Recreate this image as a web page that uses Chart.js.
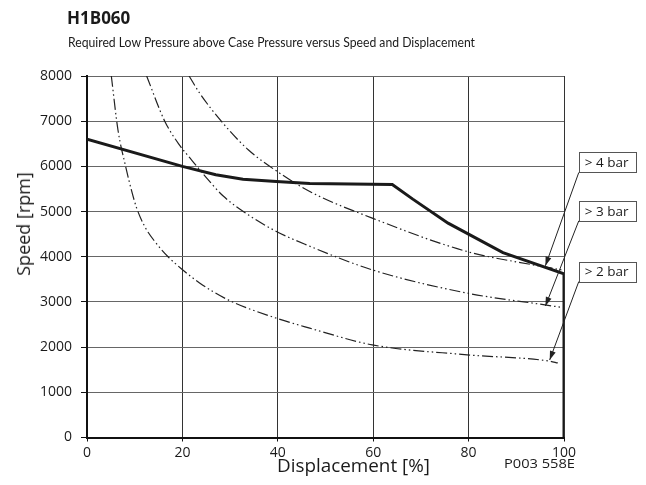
<!DOCTYPE html>
<html><head><meta charset="utf-8">
<script src="https://cdn.jsdelivr.net/npm/chart.js@4/dist/chart.umd.min.js"></script>
<style>
html,body{margin:0;padding:0;background:#fff;}
#wrap{position:relative;width:646px;height:485px;overflow:hidden;font-family:"Open Sans",sans-serif;color:#1a1a1a;}
canvas{position:absolute;left:0;top:0;}
.t{position:absolute;white-space:nowrap;line-height:1;transform-origin:0 0;}
</style></head><body>
<div id="wrap">
<canvas id="c" width="646" height="485"></canvas>
<div class="t" id="title" style="left:67px;top:9px;font-weight:700;font-size:17px;">H1B060</div>
<div class="t" id="sub" data-fit="407" style="left:68px;top:36px;font-size:13.5px;font-family:Lato,'Open Sans',sans-serif;">Required Low Pressure above Case Pressure versus Speed and Displacement</div>
<div class="t" id="xt" data-fit="153" style="left:277px;top:456px;font-size:19px;">Displacement [%]</div>
<div class="t" id="yt" style="left:14px;top:224px;font-size:18px;transform:rotate(-90deg) translate(-50%,0);">Speed [rpm]</div>
<div class="t" id="code" data-fit="71" style="left:504px;top:457px;font-size:13.5px;">P003 558E</div>
</div>
<script>
// ---- data ----
const xTicks = [0, 20, 40, 60, 80, 100];
const yTicks = [0, 1000, 2000, 3000, 4000, 5000, 6000, 7000, 8000];

const limitX = [0, 20, 27, 32.7, 39.7, 46.7, 64, 68.3, 75.7, 87.2, 100, 100];
const limitY = [6600, 6000, 5815, 5715, 5666, 5620, 5600, 5275, 4744, 4093, 3620, 0];

const bar2X = [5.1, 6.5, 8.1, 9.3, 10.4, 12.1, 14.2, 17.0, 19.9, 23.6, 29.6, 39.7, 46.7, 59.8, 79.7, 97.0, 98.7];
const bar2Y = [8000, 6800, 6000, 5480, 5080, 4670, 4340, 4000, 3725, 3420, 3045, 2640, 2420, 2050, 1830, 1690, 1650];

const bar3X = [12.5, 16.3, 19.4, 21.9, 24.3, 28.5, 33.8, 39.7, 46.0, 59.8, 79.7, 96.0, 99.5];
const bar3Y = [8000, 7000, 6470, 6146, 5840, 5349, 4928, 4560, 4264, 3710, 3195, 2935, 2880];

const bar4X = [21.4, 23.6, 28.2, 33.8, 40.4, 46.7, 59.8, 79.7, 93.5, 99.5];
const bar4Y = [8000, 7623, 6994, 6368, 5850, 5443, 4855, 4115, 3821, 3710];

const labelTexts = ['> 4 bar', '> 3 bar', '> 2 bar'];
const labelX = [103.1, 103.1, 103.1];      // box left edge (x value)
const labelY = [5865, 4795, 3451];         // box bottom edge (speed value)
const arrowTipX = [96.1, 96.1, 97.0];
const arrowTipY = [3800, 2910, 1716];

// ---- text fitting ----
document.querySelectorAll('[data-fit]').forEach(el => {
  const w = el.getBoundingClientRect().width;
  const target = parseFloat(el.dataset.fit);
  el.style.transform = 'scaleX(' + (target / w) + ')';
});

// ---- build ----
const pts = (xs, ys) => xs.map((x, i) => ({x: x, y: ys[i]}));
const dashStyle = [11, 3, 1.5, 3, 1.5, 3];

const curveDs = (label, xs, ys) => ({
  label, data: pts(xs, ys), borderColor: '#222', borderWidth: 1.2,
  borderDash: dashStyle, pointRadius: 0, fill: false,
  cubicInterpolationMode: 'monotone', order: 2
});

const labelPlugin = {
  id: 'barLabels',
  afterDatasetsDraw(chart) {
    const {ctx, scales: {x, y}} = chart;
    ctx.save();
    ctx.font = '13.5px "Open Sans", sans-serif';
    labelTexts.forEach((txt, i) => {
      const bx = x.getPixelForValue(labelX[i]);
      const by = y.getPixelForValue(labelY[i]);
      const w = 57, h = 20;
      ctx.fillStyle = '#fff';
      ctx.fillRect(bx, by - h, w, h);
      ctx.strokeStyle = '#555';
      ctx.lineWidth = 1;
      ctx.strokeRect(Math.round(bx) + 0.5, Math.round(by - h) + 0.5, w, h);
      ctx.fillStyle = '#1a1a1a';
      ctx.textBaseline = 'middle';
      ctx.textAlign = 'left';
      ctx.fillText(txt, bx + 6, by - h / 2 + 1);
      // arrow
      const tx = x.getPixelForValue(arrowTipX[i]);
      const ty = y.getPixelForValue(arrowTipY[i]);
      ctx.strokeStyle = '#222';
      ctx.lineWidth = 1;
      ctx.beginPath();
      ctx.moveTo(bx, by);
      ctx.lineTo(tx, ty);
      ctx.stroke();
      const ang = Math.atan2(ty - by, tx - bx);
      const L = 9, W = 3;
      ctx.fillStyle = '#222';
      ctx.beginPath();
      ctx.moveTo(tx, ty);
      ctx.lineTo(tx - L * Math.cos(ang) + W * Math.sin(ang), ty - L * Math.sin(ang) - W * Math.cos(ang));
      ctx.lineTo(tx - L * Math.cos(ang) - W * Math.sin(ang), ty - L * Math.sin(ang) + W * Math.cos(ang));
      ctx.closePath();
      ctx.fill();
    });
    ctx.restore();
  }
};

new Chart(document.getElementById('c'), {
  type: 'line',
  data: {
    datasets: [
      {label: 'Limit', data: pts(limitX, limitY), borderColor: '#1a1a1a', borderWidth: 3,
       pointRadius: 0, fill: false, tension: 0, order: 1},
      curveDs('> 4 bar', bar4X, bar4Y),
      curveDs('> 3 bar', bar3X, bar3Y),
      curveDs('> 2 bar', bar2X, bar2Y)
    ]
  },
  options: {
    responsive: false,
    animation: false,
    layout: {padding: {top: 76, right: 82, left: 0, bottom: 0}},
    plugins: {legend: {display: false}, tooltip: {enabled: false}, title: {display: false}},
    scales: {
      x: {
        type: 'linear', min: 0, max: 100,
        afterBuildTicks: s => { s.ticks = xTicks.map(v => ({value: v})); },
        afterFit: s => { s.height = 47.5; },
        grid: {color: '#333', lineWidth: 1, tickLength: 4, tickColor: '#111'},
        border: {color: '#111', width: 2},
        ticks: {color: '#1a1a1a', padding: 3, maxRotation: 0, font: {family: 'Open Sans', size: 14},
                callback: v => String(v)}
      },
      y: {
        type: 'linear', min: 0, max: 8000,
        afterBuildTicks: s => { s.ticks = yTicks.map(v => ({value: v})); },
        afterFit: s => { s.width = 87; },
        grid: {color: '#666', lineWidth: 1, tickLength: 6, tickColor: '#111'},
        border: {color: '#111', width: 2},
        ticks: {color: '#1a1a1a', padding: 9, font: {family: 'Open Sans', size: 14},
                callback: v => String(v)}
      }
    }
  },
  plugins: [labelPlugin]
});
</script>
</body></html>
